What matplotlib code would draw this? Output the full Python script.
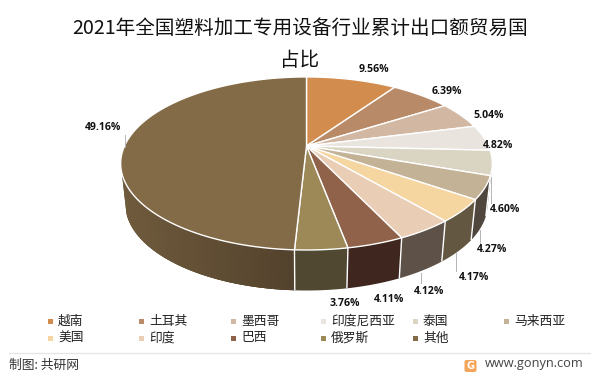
import numpy as np
import matplotlib
matplotlib.use("Agg")
import matplotlib.pyplot as plt
from matplotlib.patches import Polygon, Rectangle, FancyBboxPatch

plt.rcParams['font.family'] = ['Noto Sans CJK SC', 'DejaVu Sans']

categories = ['越南', '土耳其', '墨西哥', '印度尼西亚', '泰国', '马来西亚',
              '美国', '印度', '巴西', '俄罗斯', '其他']
values = [9.56, 6.39, 5.04, 4.82, 4.60, 4.27, 4.17, 4.12, 4.11, 3.76, 49.16]
top_colors = ['#D28C4E', '#B98A68', '#D2B8A2', '#E9E4DE', '#D9D5C2', '#C4B297',
              '#F5D5A0', '#E9CDB4', '#8F6249', '#9D8858', '#846B47']
side_left = ['#000000', '#000000', '#000000', '#000000', '#4F473D', '#4F473D',
             '#635741', '#5E5248', '#3F261E', '#504830', '#6F5A3C']
side_right = ['#000000', '#000000', '#000000', '#000000', '#4F473D', '#4F473D',
              '#635741', '#5E5248', '#3F261E', '#504830', '#52412C']
title_lines = ['2021年全国塑料加工专用设备行业累计出口额贸易国', '占比']

CX, CY = 306.5, 146.0
A, B, K = 182.0, 83.0, 0.202
DEPTH = 40.5
SHRINK = 0.975
SIDE_FROM, SIDE_TO = 107.0, 252.0


def project(theta_deg, r=1.0):
    t = np.radians(theta_deg)
    u, v = r * np.sin(t), r * np.cos(t)
    w = 1 + K * v
    return CX + A * u / w, CY - B * v / w


def bottom(theta_deg):
    x, y = project(theta_deg)
    return CX + (x - CX) * SHRINK, y + DEPTH


def hex2rgb(c):
    return np.array(matplotlib.colors.to_rgb(c))


fig = plt.figure(figsize=(5.99, 3.76), dpi=100, facecolor='white')
ax = fig.add_axes([0, 0, 1, 1])
ax.set_xlim(0, 599)
ax.set_ylim(376, 0)
ax.axis('off')

total = sum(values)
edges = np.concatenate([[0], np.cumsum(values)]) / total * 360

# side walls: solid base, then overlapping gradient strips
for i, (a0, a1) in enumerate(zip(edges[:-1], edges[1:])):
    lo, hi = max(a0, SIDE_FROM), min(a1, SIDE_TO)
    if hi <= lo:
        continue
    ts = np.linspace(lo, hi, 40)
    c0, c1 = hex2rgb(side_left[i]), hex2rgb(side_right[i])
    base = [project(t) for t in ts] + [bottom(t) for t in ts[::-1]]
    ax.add_patch(Polygon(base, closed=True, fc=(c0 + c1) / 2, ec='none', zorder=2))
    if side_left[i] != side_right[i]:
        xs = [project(t)[0] for t in ts]
        xmin, xmax = min(xs), max(xs)
        for j in range(len(ts) - 2):
            t0, t1 = ts[j], ts[j + 2]
            p = [project(t0), project(t1), bottom(t1), bottom(t0)]
            f = ((p[0][0] + p[1][0]) / 2 - xmin) / max(xmax - xmin, 1)
            col = c0 + (c1 - c0) * f
            ax.add_patch(Polygon(p, closed=True, fc=col, ec='none', zorder=2.1))
    if a1 < SIDE_TO:
        p0, p1 = project(hi), bottom(hi)
        ax.plot([p0[0], p1[0]], [p0[1], p1[1]], color='white', lw=1.0,
                solid_capstyle='butt', zorder=3)

# top faces
for i, (a0, a1) in enumerate(zip(edges[:-1], edges[1:])):
    ts = np.linspace(a0, a1, max(int((a1 - a0) * 2), 8))
    pts = [(CX, CY)] + [project(t) for t in ts]
    ax.add_patch(Polygon(pts, closed=True, fc=top_colors[i], ec='white', lw=1.0,
                         joinstyle='miter', zorder=4))

# data labels
label_xy = [(374, 69), (447, 91), (489, 115), (498, 145), (505, 209), (492, 249),
            (474, 277), (429, 292), (389, 299), (345, 303), (103, 128)]
for v, (x, y) in zip(values, label_xy):
    ax.text(x, y, f'{v:.2f}%', ha='center', va='center', fontsize=7.6,
            fontweight='bold', color='#111111', family=['Open Sans', 'DejaVu Sans'], zorder=6)

# leader lines
for (x, y0, y1) in [(124.5, 135, 147), (491, 177, 203), (480, 230, 243),
                    (456, 253, 271), (420.5, 273, 283)]:
    ax.plot([x, x], [y0, y1], color='#B5B5B5', lw=0.7, zorder=5)

# title
ax.text(300, 28, title_lines[0], ha='center', va='center', fontsize=14.1, color='#111111')
ax.text(300, 60, title_lines[1], ha='center', va='center', fontsize=14.1, color='#111111')

# legend
col_x = [50, 141.5, 233, 323, 415, 506]
row_y = [321, 338]
for i, name in enumerate(categories):
    cx, ry = col_x[i % 6], row_y[i // 6]
    ax.add_patch(Rectangle((cx - 2.5, ry - 2.5), 5, 5, fc=top_colors[i], ec='none', zorder=5))
    ax.text(cx + 8, ry, name, ha='left', va='center', fontsize=9.2, color='#222222')

# footer
ax.plot([9, 590], [353, 353], color='#E6E6E6', lw=1.0)
ax.text(9, 365, '制图: 共研网', ha='left', va='center', fontsize=9.2, color='#333333')
ax.add_patch(FancyBboxPatch((464.5, 360), 12, 12, boxstyle='round,pad=0,rounding_size=2',
                            fc='#F5A55A', ec='none', zorder=5))
ax.text(470.5, 366, 'G', ha='center', va='center', fontsize=7, fontweight='bold',
        color='white', zorder=6, family=['DejaVu Sans'])
ax.text(485, 364, 'www.gonyn.com', ha='left', va='center', fontsize=9.2, color='#444444',
        family=['Open Sans', 'DejaVu Sans'])

fig.savefig('out.png', dpi=100, facecolor='white')
